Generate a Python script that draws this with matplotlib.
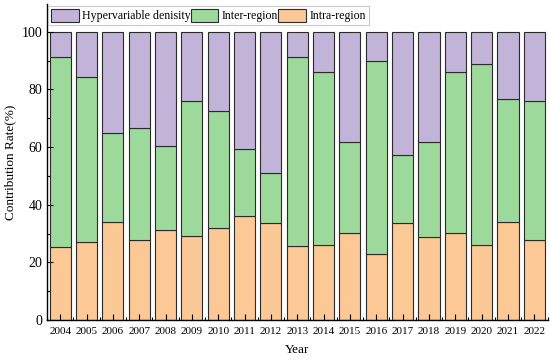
import matplotlib
matplotlib.use("Agg")
import matplotlib.pyplot as plt
import numpy as np
from matplotlib.ticker import MultipleLocator

years = [str(y) for y in range(2004, 2023)]
intra = [25.3, 27.0, 33.9, 27.7, 31.1, 29.2, 31.8, 36.0, 33.6, 25.5,
         26.0, 30.1, 22.8, 33.6, 28.7, 30.3, 25.9, 34.1, 27.8]
inter_top = [91.4, 84.3, 64.8, 66.5, 60.5, 75.8, 72.4, 59.2, 50.9, 91.1,
             86.2, 61.6, 89.9, 57.2, 61.8, 86.2, 88.9, 76.6, 75.9]
inter = [round(t - a, 1) for t, a in zip(inter_top, intra)]
hyper = [round(100 - t, 1) for t in inter_top]

plt.rcParams['font.family'] = ['Liberation Serif', 'DejaVu Serif']

fig = plt.figure(figsize=(5.5, 3.62), dpi=100)
ax = fig.add_axes([0.0855, 0.116, 0.91, 0.872])

x = np.arange(len(years))
w = 0.8
ec = '#2a2a2a'
c_intra = '#FCC896'
c_inter = '#9ED99C'
c_hyper = '#C2B3D8'
b1 = ax.bar(x, intra, w, color=c_intra, edgecolor=ec, linewidth=0.8, label='Intra-region')
b2 = ax.bar(x, inter, w, bottom=intra, color=c_inter, edgecolor=ec, linewidth=0.8, label='Inter-region')
b3 = ax.bar(x, hyper, w, bottom=inter_top, color=c_hyper, edgecolor=ec, linewidth=0.8, label='Hypervariable denisity')

ax.set_xlim(-0.45, len(years) - 0.55)
ax.set_ylim(0, 109.5)
ax.set_xticks(x)
ax.set_xticklabels(years, fontsize=8)
ax.set_xticks(np.arange(-0.5, len(years), 1), minor=True)
ax.yaxis.set_major_locator(MultipleLocator(20))
ax.yaxis.set_minor_locator(MultipleLocator(10))
ax.tick_params(axis='y', labelsize=10, direction='in', length=4, width=0.8)
ax.tick_params(axis='y', which='minor', direction='in', length=2.5, width=0.8)
ax.tick_params(axis='x', direction='in', length=4, width=0.8, pad=5)
ax.tick_params(axis='x', which='minor', direction='in', length=2, width=0.8)
for s in ['top', 'right']:
    ax.spines[s].set_visible(False)
for s in ['left', 'bottom']:
    ax.spines[s].set_linewidth(1.0)

ax.set_xlabel('Year', fontsize=9.5, labelpad=6)
ax.set_ylabel('Contribution Rate(%)', fontsize=9.5, labelpad=4)

leg = ax.legend(handles=[b3, b2, b1], loc='upper left', bbox_to_anchor=(0.0, 1.0),
                ncol=3, fontsize=8.6, frameon=True, fancybox=False,
                handlelength=2.3, handleheight=1.3, handletextpad=0.3,
                columnspacing=0.0, borderpad=0.25, borderaxespad=0.1)
leg.get_frame().set_edgecolor('#bbbbbb')
leg.get_frame().set_linewidth(0.8)

fig.savefig('out.png', dpi=100)
